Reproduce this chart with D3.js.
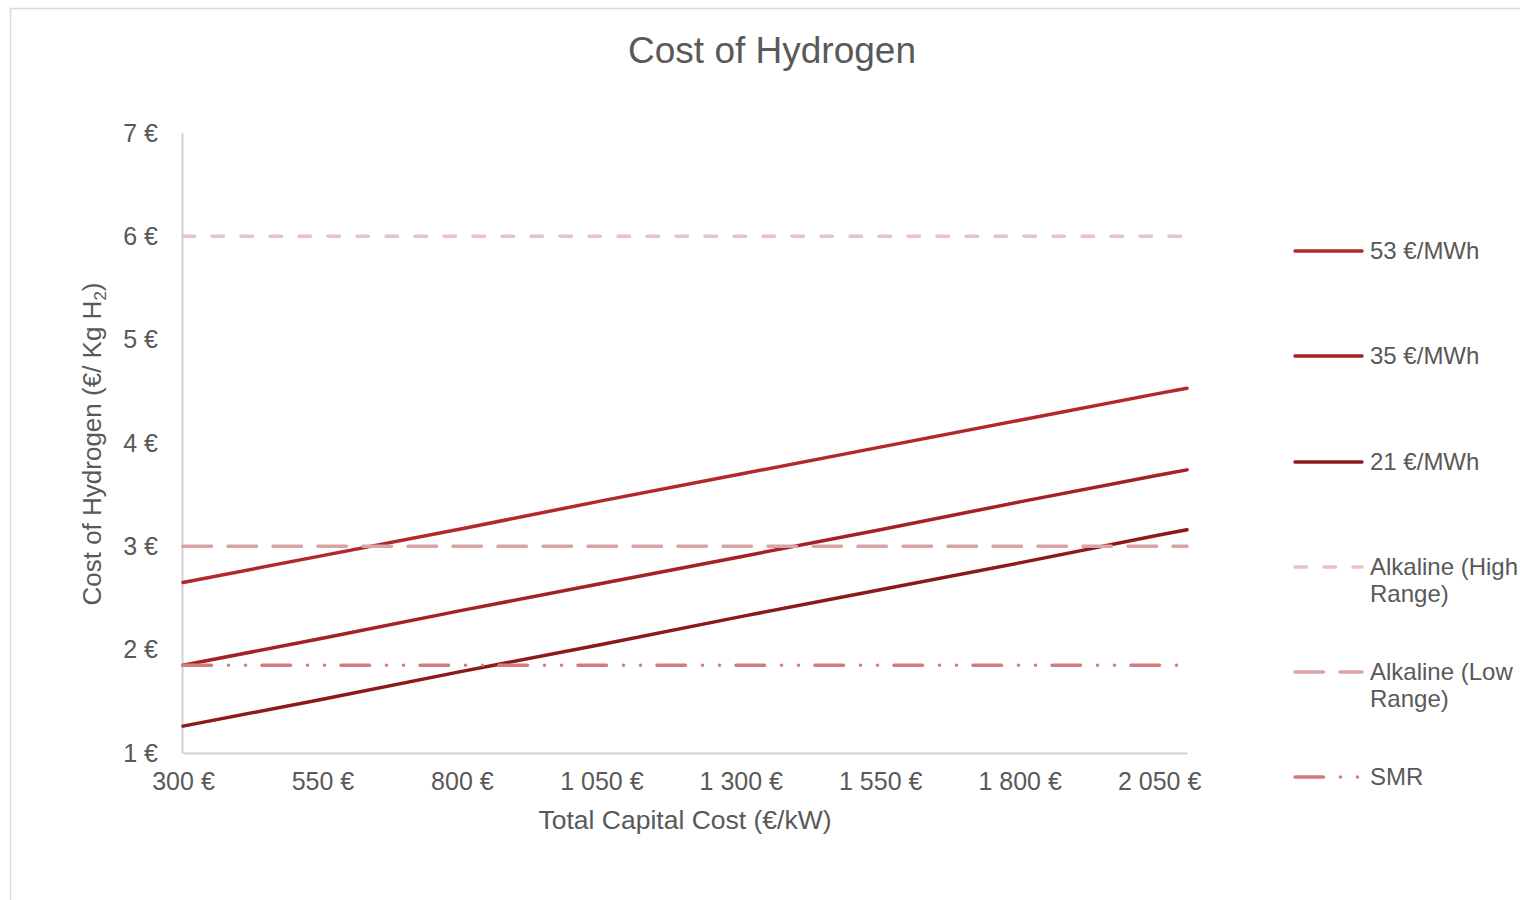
<!DOCTYPE html>
<html>
<head>
<meta charset="utf-8">
<script src="https://cdn.jsdelivr.net/npm/d3@7"></script>
<style>
  html, body { margin: 0; padding: 0; background: #fff; }
  svg { display: block; font-family: "Liberation Sans", Arial, sans-serif; }
</style>
</head>
<body>
<svg id="chart" width="1520" height="900"></svg>
<script>
// ---- Data ----
const capitalCosts = [300, 550, 800, 1050, 1300, 1550, 1800, 2050, 2100];
const xTicks = [300, 550, 800, 1050, 1300, 1550, 1800, 2050];
const yTicks = [1, 2, 3, 4, 5, 6, 7];
const seriesNames = ["53 €/MWh", "35 €/MWh", "21 €/MWh", "Alkaline (High Range)", "Alkaline (Low Range)", "SMR"];
const cost53 = [2.65, 2.91, 3.17, 3.44, 3.70, 3.96, 4.22, 4.48, 4.53];
const cost35 = [1.85, 2.11, 2.38, 2.64, 2.90, 3.16, 3.43, 3.69, 3.74];
const cost21 = [1.26, 1.52, 1.79, 2.05, 2.32, 2.58, 2.84, 3.11, 3.16];
const alkalineHigh = [6, 6, 6, 6, 6, 6, 6, 6, 6];
const alkalineLow = [3, 3, 3, 3, 3, 3, 3, 3, 3];
const smr = [1.85, 1.85, 1.85, 1.85, 1.85, 1.85, 1.85, 1.85, 1.85];
const seriesValues = [cost53, cost35, cost21, alkalineHigh, alkalineLow, smr];

// ---- Styles ----
const styles = [
  { color: "#B3282A", dash: null },
  { color: "#A42225", dash: null },
  { color: "#8C1A1C", dash: null },
  { color: "#E9C3C4", dash: "11.5,17.5" },
  { color: "#DBA2A4", dash: "28.5,16.5" },
  { color: "#D27B7D", dash: "28.5,17,0,17,0,16.5" }
];

const svg = d3.select("#chart");
const textColor = "#595959";

// chart border
svg.append("rect")
  .attr("x", 10.5).attr("y", 8.5)
  .attr("width", 1560).attr("height", 950)
  .attr("fill", "none").attr("stroke", "#d9d9d9").attr("stroke-width", 1.5);

const x = d3.scaleLinear().domain([300, 2100]).range([183, 1187]);
const y = d3.scaleLinear().domain([1, 7]).range([753, 133]);

const loc = d3.formatLocale({ decimal: ",", thousands: " ", grouping: [3], currency: ["", " €"] });
const fmt = loc.format(",d");

// title
svg.append("text")
  .attr("x", 772).attr("y", 63)
  .attr("text-anchor", "middle")
  .attr("font-size", 37)
  .attr("fill", textColor)
  .text("Cost of Hydrogen");

// y axis
const yAxis = svg.append("g")
  .attr("transform", `translate(${x.range()[0] - 1},0)`)
  .call(d3.axisLeft(y).tickValues(yTicks).tickSize(0).tickPadding(24)
    .tickFormat(d => fmt(d) + " €"));
yAxis.select(".domain").attr("stroke", "#d0d0d0").attr("stroke-width", 2);
yAxis.selectAll("text").attr("font-size", 25).attr("fill", textColor)
  .attr("font-family", "Liberation Sans, Arial, sans-serif");

// x axis
const xAxis = svg.append("g")
  .attr("transform", `translate(0,${y.range()[0]})`)
  .call(d3.axisBottom(x).tickValues(xTicks).tickSize(0).tickPadding(19)
    .tickFormat(d => fmt(d) + " €"));
xAxis.select(".domain").attr("stroke", "#d0d0d0").attr("stroke-width", 2);
xAxis.selectAll("text").attr("font-size", 25).attr("fill", textColor)
  .attr("font-family", "Liberation Sans, Arial, sans-serif");

// axis titles
svg.append("text")
  .attr("x", 685).attr("y", 829)
  .attr("text-anchor", "middle")
  .attr("font-size", 26.5)
  .attr("fill", textColor)
  .text("Total Capital Cost (€/kW)");

const yt = svg.append("text")
  .attr("transform", "translate(101,444) rotate(-90)")
  .attr("text-anchor", "middle")
  .attr("font-size", 26)
  .attr("fill", textColor);
yt.append("tspan").text("Cost of Hydrogen (€/ Kg H");
yt.append("tspan").attr("font-size", 17).attr("dy", 5).text("2");
yt.append("tspan").attr("dy", -5).text(")");

// lines
const line = d3.line().x((d, i) => x(capitalCosts[i])).y(d => y(d));
seriesValues.forEach((vals, i) => {
  const p = svg.append("path")
    .datum(vals)
    .attr("d", line)
    .attr("fill", "none")
    .attr("stroke", styles[i].color)
    .attr("stroke-width", 3.5)
    .attr("stroke-linecap", "round");
  if (styles[i].dash) p.attr("stroke-dasharray", styles[i].dash);
});

// legend
const legendY = [251, 356, 462, 567, 672, 777];
const legend = svg.append("g");
seriesNames.forEach((name, i) => {
  const g = legend.append("g").attr("transform", `translate(0,${legendY[i]})`);
  const l = g.append("line")
    .attr("x1", 1295).attr("x2", 1362)
    .attr("y1", 0).attr("y2", 0)
    .attr("stroke", styles[i].color)
    .attr("stroke-width", 3.5)
    .attr("stroke-linecap", "round");
  if (styles[i].dash) l.attr("stroke-dasharray", styles[i].dash);
  const t = g.append("text")
    .attr("x", 1370).attr("y", 0)
    .attr("font-size", 24)
    .attr("fill", textColor);
  // wrap
  const words = name.split(" ");
  let lineWords = [];
  let tspan = t.append("tspan").attr("x", 1370).attr("dy", "0.35em");
  words.forEach(w => {
    lineWords.push(w);
    tspan.text(lineWords.join(" "));
    if (tspan.node().getComputedTextLength() > 152 && lineWords.length > 1) {
      lineWords.pop();
      tspan.text(lineWords.join(" "));
      lineWords = [w];
      tspan = t.append("tspan").attr("x", 1370).attr("dy", 27).text(w);
    }
  });
});
</script>
</body>
</html>
